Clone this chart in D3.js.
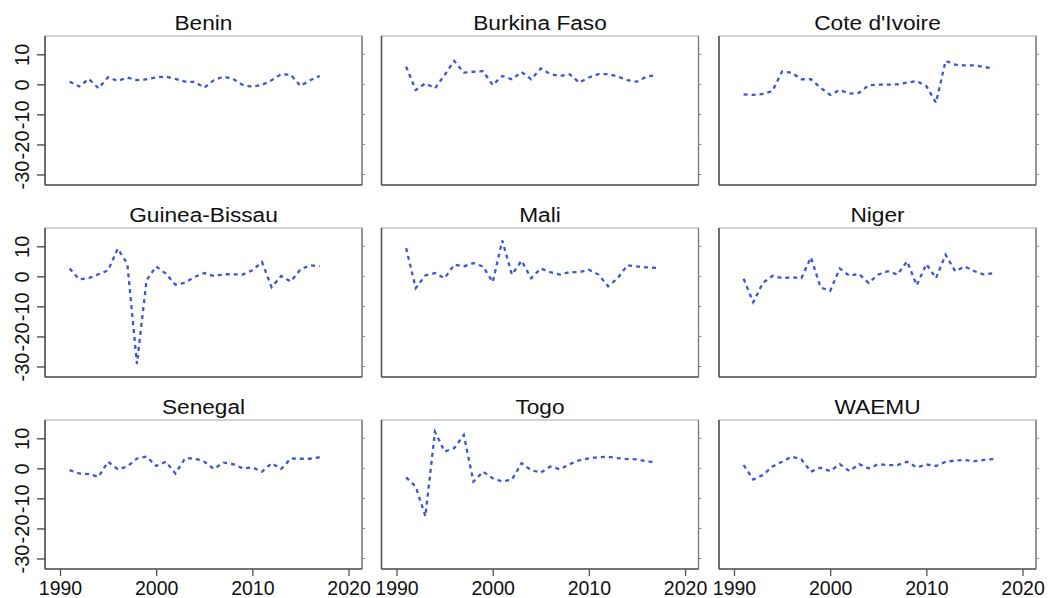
<!DOCTYPE html>
<html><head><meta charset="utf-8">
<script src="https://cdn.jsdelivr.net/npm/d3@7"></script>
<style>html,body{margin:0;padding:0;background:#fff;}svg{display:block;}</style>
</head><body>
<svg id="chart" width="1048" height="598"></svg>
<script>
const countries = ["Benin","Burkina Faso","Cote d'Ivoire","Guinea-Bissau","Mali","Niger","Senegal","Togo","WAEMU"];
const years = d3.range(1991, 2018);
const benin        = [0.9,-0.7,1.8,-1.3,2.4,1.1,2.3,1.4,1.7,2.3,2.6,1.8,0.9,0.8,-1.1,1.4,2.6,1.8,-0.2,-0.8,-0.2,1.4,3.4,3.2,-0.5,1.4,2.8];
const burkina      = [5.9,-1.9,0.3,-1.3,3.1,7.8,3.9,4.2,4.4,-0.2,2.8,1.7,4.1,1.7,5.3,3.4,2.8,3.4,0.6,2.3,3.4,3.4,2.6,1.4,0.9,2.6,3.1];
const coteDIvoire  = [-3.3,-3.5,-3.2,-2.2,4.3,3.9,1.7,1.7,-1.1,-3.5,-1.9,-3.1,-2.8,-0.3,-0.1,-0.1,0.0,0.6,1.1,-0.6,-6.1,7.8,6.6,6.3,6.3,5.8,5.2];
const guineaBissau = [2.6,-1.0,-0.6,0.7,2.0,9.2,4.2,-29.1,-1.3,3.3,0.9,-2.8,-2.1,-0.2,1.1,0.1,0.7,0.7,0.6,2.0,4.8,-3.6,0.1,-1.7,2.3,3.7,3.3];
const mali         = [9.4,-3.9,0.3,1.1,-0.6,3.9,3.3,4.4,3.3,-1.9,11.9,0.6,5.2,-0.6,2.6,1.4,0.6,1.4,1.4,2.2,0.6,-3.3,-0.6,3.7,3.3,3.0,2.8];
const niger        = [-0.8,-8.6,-2.2,0.2,-0.6,-0.3,-0.6,6.3,-3.7,-4.8,2.6,0.2,0.8,-2.2,0.6,1.7,0.6,5.0,-3.0,4.1,-0.6,7.2,1.7,3.3,1.7,0.6,1.1];
const senegal      = [-0.6,-1.7,-1.9,-2.8,2.2,-0.3,0.6,3.3,3.9,0.8,2.2,-1.7,3.3,3.3,2.2,-0.2,1.9,1.4,0.0,0.3,-1.1,1.7,-0.2,3.3,3.2,3.2,3.7];
const togo         = [-3.0,-6.1,-15.9,12.2,5.6,6.7,11.1,-4.4,-1.1,-3.3,-4.4,-3.7,1.7,-0.6,-1.4,0.6,-0.3,1.4,2.7,3.3,3.7,3.9,3.4,3.1,3.0,2.4,1.9];
const waemu        = [1.1,-3.7,-2.2,0.6,2.2,3.9,3.0,-1.1,0.2,-0.9,1.4,-0.9,1.4,0.0,1.4,1.1,1.1,2.2,0.3,1.3,0.8,2.2,2.6,2.8,2.4,2.8,3.1];
const seriesValues = [benin, burkina, coteDIvoire, guineaBissau, mali, niger, senegal, togo, waemu];
const xTicks = [1990, 2000, 2010, 2020];
const yTicks = [10, 0, -10, -20, -30];

const svg = d3.select("#chart");
const colLeft = [45, 381.5, 719];
const rowTop = [36, 228, 420];
const pw = 317, ph = 149;
const x = d3.scaleLinear().domain([1988.44, 2021.4]).range([0, pw]);
const y = d3.scaleLinear().domain([-33.5, 16.1]).range([ph, 0]);
const line = d3.line().x((d) => x(d[0])).y((d) => y(d[1]));
const font = "'Liberation Sans', Arial, Helvetica, sans-serif";
const plain = (d) => String(d);

countries.forEach((name, i) => {
  const r = Math.floor(i / 3), c = i % 3;
  const g = svg.append("g").attr("transform", `translate(${colLeft[c]},${rowTop[r]})`);
  g.append("text").attr("x", pw / 2).attr("y", -6.5)
    .attr("text-anchor", "middle")
    .attr("font-family", font).attr("font-size", 21).attr("fill", "#111")
    .attr("transform", `translate(${pw/2},0) scale(1.08,1) translate(${-pw/2},0)`)
    .text(name);
  g.append("rect").attr("x", 0).attr("y", 0).attr("width", pw).attr("height", ph)
    .attr("fill", "#fff").attr("stroke", "#a8a8a8").attr("stroke-width", 1);
  g.append("line").attr("x1", pw).attr("x2", pw).attr("y1", 0).attr("y2", ph)
    .attr("stroke", "#777").attr("stroke-width", 1.3);
  g.selectAll(".rt").data(yTicks).enter().append("line")
    .attr("x1", pw).attr("x2", pw + 3).attr("y1", (d) => y(d)).attr("y2", (d) => y(d))
    .attr("stroke", "#888").attr("stroke-width", 1);
  g.append("line").attr("x1", 0).attr("x2", 0).attr("y1", 0).attr("y2", ph)
    .attr("stroke", "#555").attr("stroke-width", 1.6);
  g.append("line").attr("x1", 0).attr("x2", pw).attr("y1", ph).attr("y2", ph)
    .attr("stroke", "#555").attr("stroke-width", 1.6);

  if (c === 0) {
    const ya = g.append("g").call(d3.axisLeft(y).tickValues(yTicks).tickSize(8).tickFormat(plain));
    ya.select(".domain").remove();
    ya.selectAll(".tick line").attr("stroke", "#444").attr("stroke-width", 1.3);
    ya.selectAll(".tick text").attr("font-family", font).attr("font-size", 20).attr("fill", "#111")
      .attr("transform", "rotate(-90)").attr("x", 0).attr("y", -16.5)
      .attr("dy", null).attr("text-anchor", "middle");
  }
  if (r === 2) {
    const xa = g.append("g").attr("transform", `translate(0,${ph})`)
      .call(d3.axisBottom(x).tickValues(xTicks).tickSize(7).tickFormat(plain));
    xa.select(".domain").remove();
    xa.selectAll(".tick line").attr("stroke", "#555").attr("stroke-width", 1.3);
    xa.selectAll(".tick text").attr("font-family", font).attr("font-size", 19.5).attr("fill", "#111")
      .attr("y", 26).attr("dy", null);
  }
  const data = years.map((yr, k) => [yr, seriesValues[i][k]]);
  g.append("path").datum(data).attr("d", line)
    .attr("fill", "none").attr("stroke", "#3a58d0").attr("stroke-width", 2.3)
    .attr("stroke-dasharray", "4,4");
});
</script>
</body></html>
